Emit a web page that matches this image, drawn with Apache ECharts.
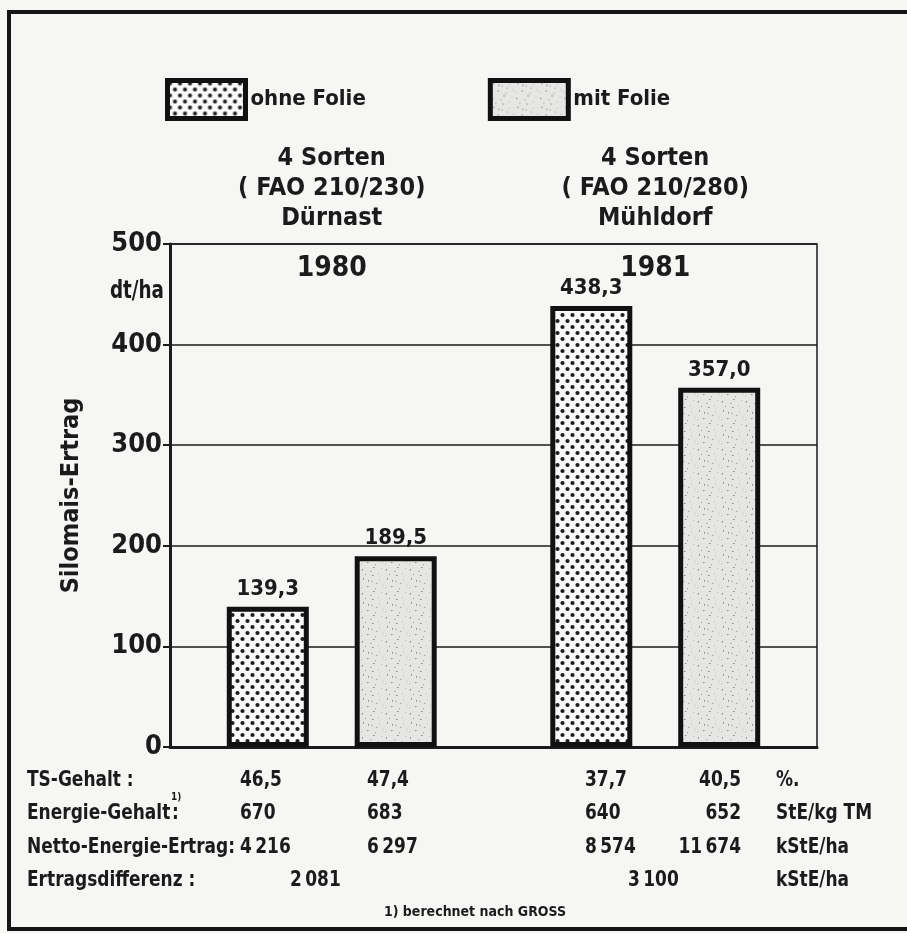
<!DOCTYPE html>
<html><head><meta charset="utf-8">
<script src="https://cdn.jsdelivr.net/npm/echarts@6/dist/echarts.min.js"></script>
<style>html,body{margin:0;padding:0;background:#f6f6f4}#chart{width:907px;height:933px}</style>
</head><body><div id="chart"></div>
<script>
// Silage maize yield with and without plastic film, two trial sites
const years = ['1980', '1981'];
const sites = ['4 Sorten\n( FAO 210/230)\nDürnast', '4 Sorten\n( FAO 210/280)\nMühldorf'];
const seriesNames = ['ohne Folie', 'mit Folie'];
const ohneFolie = [139.3, 438.3];
const mitFolie = [189.5, 357.0];
const yTicks = [0, 100, 200, 300, 400, 500];

// table below the chart (columns: 1980 ohne, 1980 mit, 1981 ohne, 1981 mit)
const rowLabels = ['TS-Gehalt :', 'Energie-Gehalt', 'Netto-Energie-Ertrag:', 'Ertragsdifferenz :'];
const tsGehalt = [46.5, 47.4, 37.7, 40.5];
const energieGehalt = [670, 683, 640, 652];
const nettoEnergieErtrag = [4216, 6297, 8574, 11674];
const ertragsDifferenz = [2081, 3100];
const units = ['%.', 'StE/kg TM', 'kStE/ha', 'kStE/ha'];
const footnote = '1) berechnet nach GROSS';

const FONT = "'DejaVu Sans Condensed', 'Liberation Sans Narrow', sans-serif";
const INK = '#1b1b1b';

function dotPattern() {
  const c = document.createElement('canvas');
  c.width = 10; c.height = 12;
  const g = c.getContext('2d');
  g.fillStyle = '#fafafa'; g.fillRect(0, 0, 10, 12);
  g.fillStyle = '#1e1e1e';
  [[2.5, 3], [7.5, 9]].forEach(([x, y]) => { g.beginPath(); g.arc(x, y, 2.1, 0, Math.PI * 2); g.fill(); });
  return c;
}
function specklePattern() {
  const c = document.createElement('canvas');
  c.width = 24; c.height = 24;
  const g = c.getContext('2d');
  g.fillStyle = '#e6e6e4'; g.fillRect(0, 0, 24, 24);
  const specks = [[3,2],[11,5],[19,3],[7,10],[15,12],[22,9],[2,17],[10,19],[18,21],[13,15],[5,22],[21,16],[8,4],[16,7],[1,11],[12,23]];
  specks.forEach(([x, y], i) => {
    g.fillStyle = i % 3 === 0 ? '#858583' : (i % 3 === 1 ? '#a8a8a6' : '#c4c4c2');
    g.fillRect(x, y, i % 2 ? 1.5 : 1, i % 2 ? 1 : 1.5);
  });
  return c;
}

const comma = v => v.toFixed(1).replace('.', ',');
const thousands = v => String(v).replace(/\B(?=(\d{3})+(?!\d))/g, '\u2009');

const chart = echarts.init(document.getElementById('chart'));

// condensed bold text helper for the table and side labels
const txt = (text, x, y, opts = {}) => ({
  type: 'text', x, y, silent: true, scaleX: opts.sx || 0.9,
  style: { text, fill: INK, font: `bold ${opts.size || 21}px ${FONT}`, textAlign: opts.align || 'left', textVerticalAlign: 'middle' }
});

const rowY = [781, 814, 848, 881];
const colX = [[240, 'left'], [367, 'left'], [585, 'left'], [741, 'right']];
const tableRows = [
  tsGehalt.map(comma),
  energieGehalt.map(String),
  nettoEnergieErtrag.map(thousands)
];
const graphics = [
  { type: 'rect', silent: true, shape: { x: 9, y: 12, width: 1000, height: 917 }, style: { fill: 'none', stroke: '#151515', lineWidth: 4 } },
  txt('dt/ha', 164, 292, { size: 24, align: 'right', sx: 0.85 })
];
rowLabels.forEach((t, i) => graphics.push(txt(t, 27, rowY[i])));
graphics.push(txt(':', 172, rowY[1]));
graphics.push(txt('1)', 171, rowY[1] - 17, { size: 11 }));
tableRows.forEach((row, r) => row.forEach((v, c) => graphics.push(txt(v, colX[c][0], rowY[r], { align: colX[c][1] }))));
graphics.push(txt(thousands(ertragsDifferenz[0]), 290, rowY[3]));
graphics.push(txt(thousands(ertragsDifferenz[1]), 628, rowY[3]));
units.forEach((u, i) => graphics.push(txt(u, 776, rowY[i])));
graphics.push(txt(footnote, 475, 912, { size: 14, align: 'center', sx: 1 }));

const barLabel = {
  show: true, position: 'top', distance: 7,
  fontFamily: FONT, fontWeight: 'bold', fontSize: 22, color: INK,
  formatter: p => comma(p.value)
};

chart.setOption({
  backgroundColor: '#f6f6f4',
  animation: false,
  textStyle: { fontFamily: FONT },
  grid: { left: 170, right: 90, top: 244, bottom: 186, show: true, borderColor: INK, borderWidth: 1.5, backgroundColor: 'transparent' },
  legend: {
    left: 160, top: 73, icon: 'rect', itemWidth: 78, itemHeight: 38, itemGap: 122,
    itemStyle: { borderColor: '#111', borderWidth: 5 },
    textStyle: { fontFamily: FONT, fontWeight: 'bold', fontSize: 22, color: INK },
    data: seriesNames
  },
  xAxis: [
    { type: 'category', data: years, position: 'bottom',
      axisLine: { lineStyle: { color: INK, width: 3 } }, axisTick: { show: false }, axisLabel: { show: false } },
    { type: 'category', data: years, position: 'top',
      axisLine: { show: false }, axisTick: { show: false },
      axisLabel: { inside: true, margin: 11, fontFamily: FONT, fontWeight: 'bold', fontSize: 28, color: INK } },
    { type: 'category', data: sites, position: 'top',
      axisLine: { show: false }, axisTick: { show: false },
      axisLabel: { margin: 11, fontFamily: FONT, fontWeight: 'bold', fontSize: 25, lineHeight: 30, color: INK } }
  ],
  yAxis: {
    type: 'value', min: yTicks[0], max: yTicks[yTicks.length - 1], interval: 100,
    name: 'Silomais-Ertrag', nameLocation: 'middle', nameGap: 86, nameRotate: 90,
    nameTextStyle: { fontFamily: FONT, fontWeight: 'bold', fontSize: 25, color: INK },
    axisLine: { show: true, lineStyle: { color: INK, width: 3 } },
    axisTick: { show: true, length: 7, lineStyle: { color: INK, width: 2 } },
    axisLabel: { margin: 8, fontFamily: FONT, fontWeight: 'bold', fontSize: 27, color: INK },
    splitLine: { lineStyle: { color: INK, width: 1.5 } }
  },
  series: [
    { name: seriesNames[0], type: 'bar', xAxisIndex: 0, data: ohneFolie, barWidth: 82, barGap: '56%',
      itemStyle: { color: { image: dotPattern(), repeat: 'repeat' }, borderColor: '#111', borderWidth: 5 },
      label: barLabel },
    { name: seriesNames[1], type: 'bar', xAxisIndex: 0, data: mitFolie, barWidth: 82,
      itemStyle: { color: { image: specklePattern(), repeat: 'repeat' }, borderColor: '#111', borderWidth: 5 },
      label: barLabel }
  ],
  graphic: graphics
});
</script></body></html>
